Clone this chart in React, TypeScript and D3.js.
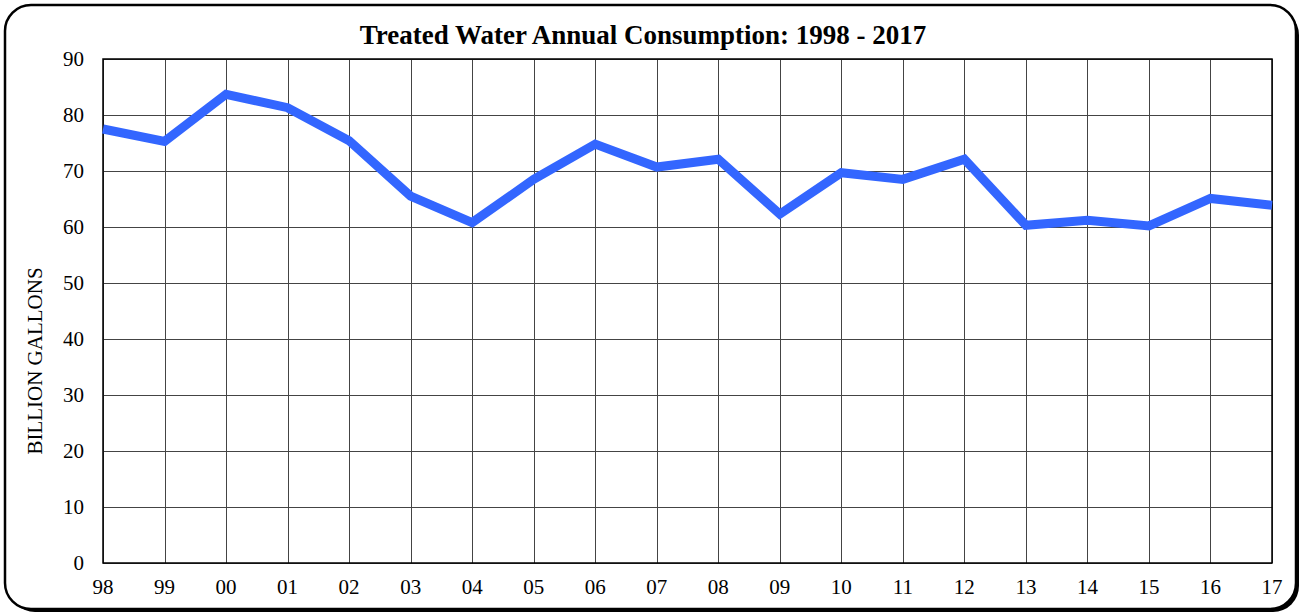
import React from "react";
import * as d3 from "d3";

const years = ["98","99","00","01","02","03","04","05","06","07","08","09","10","11","12","13","14","15","16","17"];
const consumption = [77.5,75.3,83.7,81.3,75.4,65.5,60.8,68.5,74.8,70.7,72.1,62.3,69.7,68.5,72.1,60.3,61.2,60.2,65.1,63.9];
const yTicks = [0,10,20,30,40,50,60,70,80,90];
const title = "Treated Water Annual Consumption: 1998 - 2017";
const yLabel = "BILLION GALLONS";

export default function App() {
  const W = 1305, H = 615;
  const left = 103, right = 1272, top = 59, bottom = 563;
  const x = d3.scalePoint<string>().domain(years).range([left, right]);
  const y = d3.scaleLinear().domain([0, 90]).range([bottom, top]);
  const line = d3.line<number>().x((_, i) => x(years[i]) as number).y(d => y(d));
  const font = "'Liberation Serif', 'Times New Roman', serif";
  return (
    <svg width={W} height={H} style={{ position: "absolute", left: 0, top: 0, display: "block" }} fontFamily={font}>
      <rect x={9} y={9} width={1290} height={603} rx={26} ry={26} fill="#000" />
      <rect x={5} y={5} width={1291} height={604} rx={26} ry={26} fill="#fff" stroke="#000" strokeWidth={2.5} />
      <text x={643} y={44} textAnchor="middle" fontSize={27} fontWeight="bold">{title}</text>
      {yTicks.map(t => (
        <g key={"y" + t}>
          <line x1={left} x2={right} y1={Math.round(y(t)) + 0.5} y2={Math.round(y(t)) + 0.5} stroke="#444" strokeWidth={1} />
          <text x={84} y={y(t) + 7} textAnchor="end" fontSize={21}>{t}</text>
        </g>
      ))}
      {years.map(yr => (
        <g key={"x" + yr}>
          <line x1={Math.round(x(yr) as number) + 0.5} x2={Math.round(x(yr) as number) + 0.5} y1={top} y2={bottom} stroke="#444" strokeWidth={1} />
          <text x={x(yr) as number} y={594} textAnchor="middle" fontSize={21}>{yr}</text>
        </g>
      ))}
      <rect x={left} y={top} width={right - left} height={bottom - top} fill="none" stroke="#000" strokeWidth={1.5} />
      <text transform={`translate(42, 361) rotate(-90)`} textAnchor="middle" fontSize={21}>{yLabel}</text>
      <path d={line(consumption) || ""} fill="none" stroke="#3366ff" strokeWidth={9} strokeLinejoin="miter" />
    </svg>
  );
}
